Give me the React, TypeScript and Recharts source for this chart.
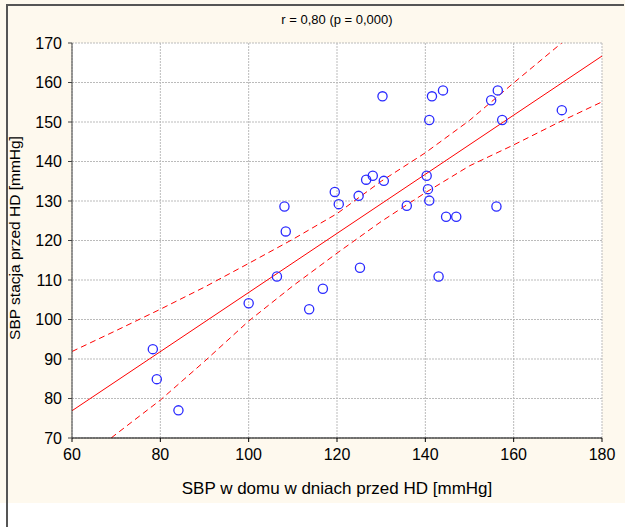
import { ComposedChart, Scatter, Line, XAxis, YAxis, CartesianGrid } from 'recharts';

// home SBP (x) vs station SBP before HD (y)
const homeSbp = [78.3, 79.2, 84.1, 100.0, 106.4, 108.1, 108.4, 113.7, 116.8, 119.5, 120.4, 124.9, 125.2, 126.6, 128.1, 130.6, 130.3, 135.8, 140.3, 140.6, 140.9, 140.9, 141.5, 143.0, 144.0, 144.7, 147.0, 154.9, 156.1, 156.4, 157.4, 170.9];
const stationSbp = [92.5, 84.9, 77.0, 104.1, 110.9, 128.6, 122.3, 102.6, 107.8, 132.3, 129.2, 131.3, 113.1, 135.4, 136.4, 135.1, 156.5, 128.8, 136.4, 133.0, 130.1, 150.5, 156.5, 110.9, 158.0, 126.0, 126.0, 155.5, 128.6, 158.0, 150.5, 153.0];

// regression line end points
const fitX = [60, 180];
const fitY = [76.9, 166.7];

// 95% confidence band
const bandX = [60, 70, 80, 90, 100, 110, 120, 130, 140, 150, 160, 170, 180];
const upperY = [91.9, 97.2, 102.6, 108.2, 114.2, 120.3, 126.8, 135.0, 142.2, 150.4, 159.9, 169.2, 178.5];
const lowerY = [62.2, 71.0, 79.6, 89.4, 99.6, 108.5, 116.8, 124.8, 132.1, 138.9, 144.2, 149.8, 155.1];

const xTicks = [60, 80, 100, 120, 140, 160, 180];
const yTicks = [70, 80, 90, 100, 110, 120, 130, 140, 150, 160, 170];

const points = homeSbp.map((x, i) => ({ x, y: stationSbp[i] }));
const fit = fitX.map((x, i) => ({ x, y: fitY[i] }));
const upper = bandX.map((x, i) => ({ x, y: upperY[i] }));
const lower = bandX.map((x, i) => ({ x, y: lowerY[i] }));

const font = '"Liberation Sans", Arial, sans-serif';
const tickStyle = { fontSize: 16, fill: '#000', fontFamily: font };

const Ring = (props: any) => {
    const { cx, cy } = props;
    if (cx == null || cy == null) return null;
    return <circle cx={cx} cy={cy} r={4.6} fill="none" stroke="#2a2aff" strokeWidth={1.3} />;
};

export default function App() {
    return (
        <div style={{ position: 'absolute', left: 0, top: 0, width: 640, height: 527, background: '#fff', fontFamily: font }}>
            <div style={{ position: 'absolute', left: 0, top: 0, width: 625, height: 503, background: '#fef9ee' }} />
            <div style={{ position: 'absolute', left: 6, top: 4, width: 618, height: 2, background: '#555' }} />
            <div style={{ position: 'absolute', left: 6, top: 4, width: 2, height: 523, background: '#555' }} />
            <div style={{ position: 'absolute', left: 72, top: 12, width: 530, textAlign: 'center', fontSize: 13 }}>
                r = 0,80 (p = 0,000)
            </div>
            <div style={{ position: 'absolute', left: 72, top: 479, width: 530, textAlign: 'center', fontSize: 17 }}>
                SBP w domu w dniach przed HD [mmHg]
            </div>
            <div style={{
                position: 'absolute', left: 15, top: 238, width: 300, marginLeft: -150, marginTop: -9,
                textAlign: 'center', fontSize: 15.5, lineHeight: '18px', transform: 'rotate(-90deg)', whiteSpace: 'nowrap'
            }}>
                SBP stacja przed HD [mmHg]
            </div>
            <div style={{ position: 'absolute', left: 0, top: 0 }}>
                <ComposedChart width={640} height={527} margin={{ top: 43, right: 38, left: 12, bottom: 59 }}>
                    <CartesianGrid fill="#fff" stroke="#bbbbbb" strokeDasharray="2 1" />
                    <XAxis
                        type="number"
                        dataKey="x"
                        domain={[60, 180]}
                        ticks={xTicks}
                        allowDataOverflow
                        height={30}
                        tick={tickStyle}
                        tickSize={4}
                        tickMargin={7}
                        stroke="#000"
                    />
                    <XAxis
                        xAxisId="top"
                        orientation="top"
                        type="number"
                        domain={[60, 180]}
                        ticks={xTicks}
                        height={0}
                        tickSize={4}
                        tickFormatter={() => ''}
                        stroke="#444"
                    />
                    <YAxis
                        type="number"
                        dataKey="y"
                        domain={[70, 170]}
                        ticks={yTicks}
                        allowDataOverflow
                        width={60}
                        tick={tickStyle}
                        tickSize={4}
                        tickMargin={6}
                        stroke="#444"
                    />
                    <YAxis
                        yAxisId="right"
                        orientation="right"
                        type="number"
                        domain={[70, 170]}
                        ticks={yTicks}
                        width={0}
                        tickSize={4}
                        tickFormatter={() => ''}
                        stroke="#000"
                    />
                    <Line data={upper} dataKey="y" type="linear" stroke="#ff0000" strokeWidth={1} strokeDasharray="6 4" dot={false} isAnimationActive={false} />
                    <Line data={lower} dataKey="y" type="linear" stroke="#ff0000" strokeWidth={1} strokeDasharray="6 4" dot={false} isAnimationActive={false} />
                    <Line data={fit} dataKey="y" type="linear" stroke="#ff0000" strokeWidth={1} dot={false} isAnimationActive={false} />
                    <Scatter data={points} dataKey="y" shape={Ring} isAnimationActive={false} />
                </ComposedChart>
            </div>
        </div>
    );
}
